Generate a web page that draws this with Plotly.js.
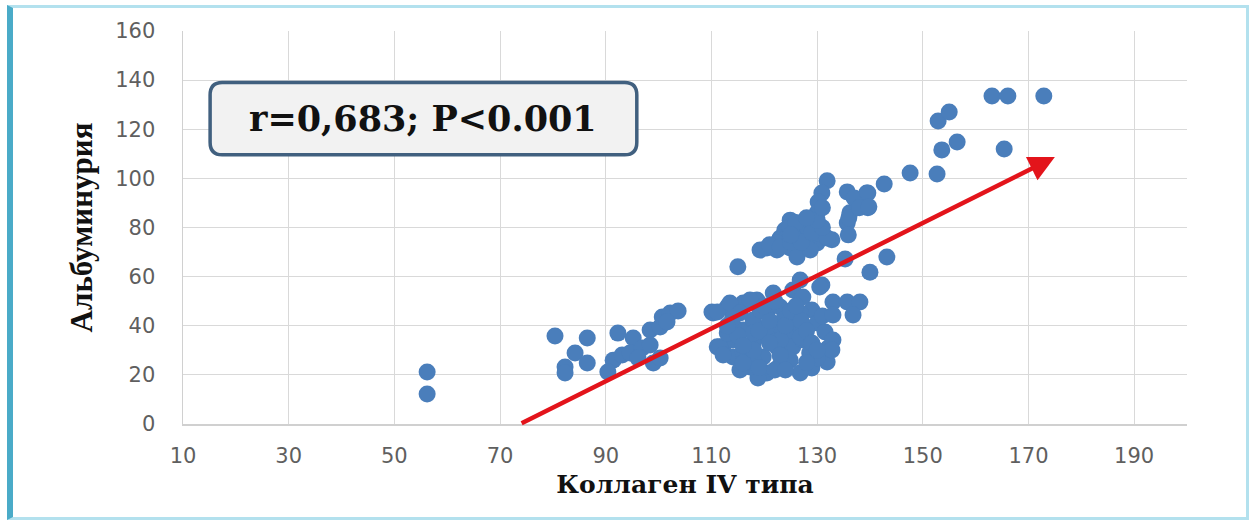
<!DOCTYPE html>
<html>
<head>
<meta charset="utf-8">
<script src="https://cdn.plot.ly/plotly-3.0.1.min.js"></script>
<style>
  html, body { margin: 0; padding: 0; background: #ffffff; }
  #wrap { position: relative; width: 1249px; height: 522px; }
  #chart { position: absolute; left: 0; top: 0; width: 1249px; height: 522px; }
  #frame { position: absolute; left: 7px; top: 5px; width: 1233px; height: 509px;
           border: 3px solid #b3e1ee; border-left: 6px solid #4aabc8; pointer-events: none; }
</style>
</head>
<body>
<div id="wrap">
  <div id="chart"></div>
  <div id="frame"></div>
</div>
<script>
// Коллаген IV типа (x) vs Альбуминурия (y)
const collagenIV = [
  56.2, 56.2,
  80.4, 86.5, 84.2, 86.5, 82.3, 82.3, 92.3, 95.2, 91.4, 93.1, 90.4, 94.6, 96.9, 98.4,
  98.4, 100.3, 100.7, 102.2, 103.7, 101.6, 99.0, 100.3, 96.1, 110.1, 111.1,
  110.3, 113.0, 116.0, 118.6,
  111.1, 113.5, 117.3, 121.7, 125.4, 127.3, 129.0, 130.0, 131.5, 132.1, 131.9, 129.0,
  126.8, 123.0, 120.5, 118.8, 117.3, 114.1, 112.2, 114.1, 116.0, 117.9, 120.5, 123.0,
  124.9, 122.4, 124.9, 126.8, 120.5, 117.9, 122.4, 125.4, 127.3, 128.6, 124.9, 119.8,
  116.0, 133.0, 132.8, 117.9, 130.0, 111.6, 112.2, 115.4, 115.4, 119.2, 123.6, 126.8,
  120.5, 117.9, 114.1, 126.8, 123.0, 116.0,
  113.0, 115.0, 118.0, 119.0, 121.0, 121.0, 123.0, 124.0, 125.0, 127.0, 128.0, 129.0,
  130.0, 131.0, 120.0, 122.0, 126.0, 114.0, 116.0, 119.0, 122.0, 124.0, 128.0, 113.0,
  130.9, 133.0, 135.7, 138.1, 133.0, 136.8, 130.5, 126.8, 115.0, 135.3, 143.2, 140.0,
  131.9, 130.9, 130.2, 135.7, 139.4, 137.6, 139.6, 136.2, 135.7, 135.9, 132.8, 130.0,
  129.2, 124.9, 123.9, 126.8, 123.0, 126.2, 128.7, 120.5, 122.4, 124.9, 127.3, 130.0,
  126.2, 119.2, 124.3, 122.4, 128.1, 130.0, 124.9, 128.7, 131.9,
  121.0, 123.0, 125.0, 127.0, 129.0, 131.0, 130.0, 131.0, 126.0, 128.0, 125.0,
  136.0, 137.0, 138.0,
  142.7, 139.6, 139.8, 147.6, 152.7, 153.6, 156.5, 165.4, 152.9, 155.0,
  163.1, 166.1, 172.9
];
const albuminuria = [
  21.2, 12.2,
  35.8, 35.0, 28.9, 24.8, 23.2, 20.8, 37.0, 35.0, 26.0, 28.1, 21.2, 28.9, 30.9, 32.2,
  38.3, 39.5, 43.6, 45.2, 46.0, 41.5, 24.8, 26.9, 26.9, 45.6, 31.4,
  45.2, 47.6, 49.3, 50.5,
  45.6, 49.3, 50.5, 53.3, 54.6, 51.7, 46.4, 41.1, 37.5, 30.9, 25.2, 22.8,
  20.8, 24.0, 20.8, 18.7, 23.2, 27.3, 31.4, 34.2, 38.3, 42.3, 45.2, 47.6,
  43.6, 39.5, 37.0, 39.5, 35.4, 33.0, 31.4, 31.4, 34.2, 28.9, 26.0, 27.3,
  29.3, 34.2, 30.1, 26.0, 26.9, 31.4, 28.1, 22.0, 45.2, 46.4, 42.3, 45.2,
  39.5, 37.0, 39.5, 35.4, 34.2, 24.8,
  37.0, 36.0, 30.0, 38.0, 42.0, 33.0, 28.0, 40.0, 46.0, 42.0, 38.0, 33.0,
  30.0, 44.0, 48.0, 50.0, 48.0, 43.0, 32.0, 23.0, 22.0, 22.0, 25.0, 40.0,
  56.6, 49.7, 49.7, 49.7, 44.4, 44.4, 55.8, 58.6, 64.0, 67.2, 68.0, 61.8,
  99.0, 94.0, 90.4, 94.5, 94.0, 90.0, 88.0, 86.0, 81.8, 77.0, 75.0, 86.0,
  81.8, 83.0, 79.0, 79.0, 75.7, 75.0, 76.0, 71.7, 70.8, 71.7, 72.0, 73.7,
  68.0, 70.8, 76.0, 73.7, 80.2, 77.8, 80.2, 70.8, 75.7,
  73.0, 72.0, 74.0, 74.0, 78.0, 80.0, 83.0, 88.0, 82.0, 84.0, 77.0,
  84.0, 92.0, 88.0,
  97.7, 94.0, 88.4, 102.2, 101.8, 111.6, 114.8, 112.0, 123.4, 127.0,
  133.5, 133.5, 133.5
];
// Red arrow (trend direction): tail and tip in data units
const arrowTail = [73.8, 0];
const arrowTip = [175.0, 108.7];
const xTicks = [10, 30, 50, 70, 90, 110, 130, 150, 170, 190];
const yTicks = [0, 20, 40, 60, 80, 100, 120, 140, 160];
const statText = 'r=0,683; P<0.001';
const xTitle = 'Коллаген IV типа';
const yTitle = 'Альбуминурия';

function roundRect(x0, y0, x1, y1, rx, ry) {
  return `M ${x0 + rx},${y0} L ${x1 - rx},${y0} Q ${x1},${y0} ${x1},${y0 + ry} ` +
         `L ${x1},${y1 - ry} Q ${x1},${y1} ${x1 - rx},${y1} L ${x0 + rx},${y1} ` +
         `Q ${x0},${y1} ${x0},${y1 - ry} L ${x0},${y0 + ry} Q ${x0},${y0} ${x0 + rx},${y0} Z`;
}

const trace = {
  type: 'scatter', mode: 'markers',
  x: collagenIV, y: albuminuria,
  marker: { color: '#4a7ebb', size: 17, line: { width: 0 } },
  hoverinfo: 'x+y'
};

const tickFont = { family: 'DejaVu Sans', size: 21, color: '#5f5f5f' };

const layout = {
  width: 1249, height: 522,
  margin: { l: 183, r: 62, t: 31, b: 98 },
  paper_bgcolor: '#ffffff', plot_bgcolor: '#ffffff',
  showlegend: false,
  xaxis: {
    range: [10, 200], tickmode: 'array', tickvals: xTicks, ticktext: xTicks.map(String),
    showgrid: true, gridcolor: '#d9d9d9', gridwidth: 1,
    showline: true, linecolor: '#d0d0d0', linewidth: 1.5,
    zeroline: false, ticks: '', tickfont: tickFont, ticklabelstandoff: 12,
    title: { text: xTitle, font: { family: 'DejaVu Serif', size: 25, color: '#111111', weight: 'bold' }, standoff: 9 }
  },
  yaxis: {
    range: [0, 160], tickmode: 'array', tickvals: yTicks, ticktext: yTicks.map(String),
    showgrid: true, gridcolor: '#d9d9d9', gridwidth: 1,
    showline: true, linecolor: '#d0d0d0', linewidth: 1.5,
    zeroline: false, ticks: '', tickfont: tickFont, ticklabelstandoff: 22,
    title: { text: yTitle, font: { family: 'Liberation Serif', size: 31, color: '#111111', weight: 'bold' }, standoff: 13 }
  },
  shapes: [
    {
      type: 'path', xref: 'paper', yref: 'paper',
      path: roundRect(0.027, 0.685, 0.452, 0.869, 0.012, 0.032),
      fillcolor: '#f2f2f2', line: { color: '#41607f', width: 3.5 }, layer: 'above'
    }
  ],
  annotations: [
    {
      xref: 'paper', yref: 'paper', x: 0.2395, y: 0.777, xanchor: 'center', yanchor: 'middle',
      text: statText, showarrow: false,
      font: { family: 'DejaVu Serif', size: 35, color: '#111111', weight: 'bold' }
    },
    {
      xref: 'x', yref: 'y', axref: 'x', ayref: 'y',
      x: arrowTip[0], y: arrowTip[1], ax: arrowTail[0], ay: arrowTail[1],
      text: '', showarrow: true, arrowhead: 2, arrowsize: 1.15, arrowwidth: 4.5,
      arrowcolor: '#e3141b', standoff: 0, startstandoff: 0
    }
  ]
};

Plotly.newPlot('chart', [trace], layout, { displayModeBar: false, staticPlot: true });
</script>
</body>
</html>
